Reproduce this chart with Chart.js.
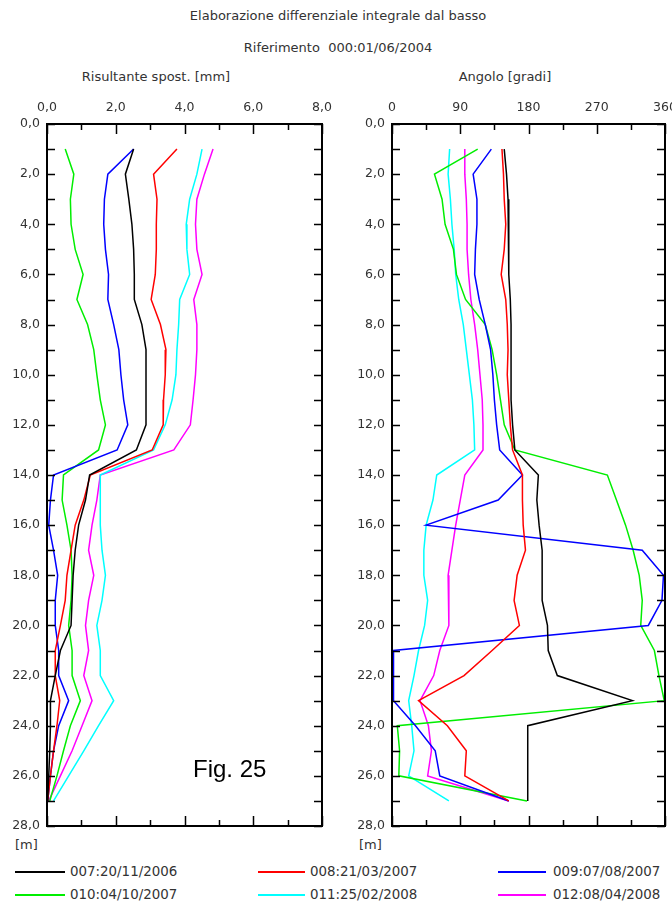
<!DOCTYPE html>
<html>
<head>
<meta charset="utf-8">
<script src="https://cdn.jsdelivr.net/npm/chart.js@4.4.1/dist/chart.umd.min.js"></script>
<style>
html,body{margin:0;padding:0;background:#fff;width:672px;height:910px;overflow:hidden;position:relative;font-family:"DejaVu Sans",Verdana,sans-serif;}
.t{position:absolute;font-size:13px;line-height:14px;color:#333;white-space:nowrap;}
.c{transform:translateX(-50%);}
canvas{position:absolute;}
#fig{position:absolute;left:193px;top:757px;font-family:"Liberation Sans",Arial,sans-serif;font-size:24px;line-height:24px;color:#000;}
.sw{position:absolute;height:0;border-top:2px solid #000;}
</style>
</head>
<body>
<div class="t c" style="left:338px;top:9px;">Elaborazione differenziale integrale dal basso</div>
<div class="t c" style="left:338px;top:41px;">Riferimento&nbsp; 000:01/06/2004</div>
<div class="t c" style="left:156px;top:70px;">Risultante spost. [mm]</div>
<div class="t c" style="left:505px;top:70px;">Angolo [gradi]</div>
<div class="t" style="left:15px;top:838px;">[m]</div>
<div class="t" style="left:359px;top:838px;">[m]</div>
<canvas id="c1" width="352" height="766" style="left:0;top:80px;"></canvas>
<canvas id="c2" width="355" height="766" style="left:340px;top:80px;"></canvas>
<div id="fig">Fig. 25</div>
<div id="legend"></div>
<script>
// Depth of each reading [m]
const depths = [1,2,3,4,5,6,7,8,9,10,11,12,13,14,15,16,17,18,19,20,21,22,23,24,25,26,27];

// Series names and colours
const seriesNames = ["007:20/11/2006","008:21/03/2007","009:07/08/2007","010:04/10/2007","011:25/02/2008","012:08/04/2008"];
const seriesColors = ["#000000","#ff0000","#0000ff","#00ee00","#00ffff","#ff00ff"];

// Risultante spostamento [mm]
const disp007 = [2.52,2.28,2.38,2.47,2.52,2.54,2.54,2.76,2.88,2.88,2.88,2.88,2.60,1.24,1.12,0.92,0.82,0.76,0.73,0.70,0.39,0.24,0.10,0.10,0.08,0.05,0.02];
const disp008 = [3.78,3.10,3.20,3.18,3.18,3.15,3.03,3.30,3.46,3.44,3.39,3.38,3.06,1.26,1.07,0.82,0.70,0.58,0.53,0.39,0.24,0.24,0.37,0.29,0.19,0.10,0.02];
const disp009 = [2.52,1.77,1.67,1.65,1.70,1.79,1.77,1.94,2.09,2.15,2.23,2.35,2.04,0.19,0.10,0.05,0.19,0.31,0.24,0.24,0.34,0.34,0.63,0.34,0.19,0.10,0.02];
const disp010 = [0.53,0.78,0.68,0.70,0.82,1.05,0.87,1.18,1.36,1.45,1.55,1.70,1.50,0.48,0.44,0.58,0.70,0.73,0.70,0.63,0.73,0.73,0.97,0.68,0.48,0.29,0.08];
const disp011 = [4.51,4.36,4.15,4.05,4.07,4.15,3.86,3.83,3.78,3.75,3.64,3.44,3.10,1.55,1.55,1.55,1.60,1.70,1.60,1.45,1.55,1.55,1.94,1.50,1.07,0.63,0.19];
const disp012 = [4.83,4.58,4.36,4.32,4.36,4.51,4.27,4.36,4.36,4.32,4.25,4.17,3.69,1.55,1.45,1.31,1.21,1.36,1.21,1.12,1.21,1.07,1.31,1.02,0.73,0.39,0.05];

// Angolo [gradi]
const ang007 = [148,151,153,154,154,154,156,157,157,157,157,159,162,193,191,194,198,198,198,205,206,218,317,179,179,179,179];
const ang008 = [145,147,148,150,148,144,150,152,153,152,154,156,159,172,172,173,176,165,161,168,132,95,35,73,98,96,154];
const ang009 = [131,107,112,112,110,109,115,123,130,133,135,138,142,172,140,45,330,358,356,338,2,2,2,31,57,63,154];
const ang010 = [113,56,66,70,81,85,97,123,132,138,143,148,162,284,296,308,318,326,330,328,346,352,359,7,10,9,178];
const ang011 = [76,74,77,79,82,84,88,94,98,102,106,108,109,59,54,45,42,42,47,43,35,29,22,26,29,22,75];
const ang012 = [96,96,98,99,99,101,104,109,113,116,119,120,120,96,90,84,79,74,75,75,63,55,37,48,52,47,154];

// Axis ranges / tick steps
const dispAxis = {min:0, max:8, labelStep:2, minorStep:1};
const angAxis = {min:0, max:360, labelStep:90, minorStep:45};
const depthAxis = {min:0, max:28, labelStep:2, minorStep:1};

const dispSeries = [disp007,disp008,disp009,disp010,disp011,disp012];
const angSeries = [ang007,ang008,ang009,ang010,ang011,ang012];

function makeDatasets(series){
  return series.map((vals,i)=>({
    label: seriesNames[i],
    data: vals.map((v,k)=>({x:v, y:depths[k]})),
    borderColor: seriesColors[i],
    backgroundColor: seriesColors[i],
    borderWidth: 1.5,
    pointRadius: 0,
    showLine: true,
    tension: 0,
    fill: false
  }));
}

const font = {family:"DejaVu Sans", size:12.5};
const fmt1 = v => v.toFixed(1).replace('.', ',');

const frameTicks = {
  id:'frameTicks',
  afterDraw(chart, args, o){
    const {ctx, chartArea:{left,right,top,bottom}, scales:{x,y}} = chart;
    ctx.save();
    ctx.strokeStyle = '#000';
    ctx.lineWidth = 1.5;
    ctx.beginPath();
    for(let v=o.x.min; v<=o.x.max+1e-9; v+=o.x.minorStep){
      const px = Math.round(x.getPixelForValue(v))+0.5;
      const major = Math.abs(v/o.x.labelStep - Math.round(v/o.x.labelStep))<1e-9;
      const len = major ? 10 : 6;
      ctx.moveTo(px, top); ctx.lineTo(px, top+len);
      ctx.moveTo(px, bottom); ctx.lineTo(px, bottom-len);
    }
    for(let v=o.y.min; v<=o.y.max+1e-9; v+=o.y.minorStep){
      const py = Math.round(y.getPixelForValue(v))+0.5;
      ctx.moveTo(left, py); ctx.lineTo(left+8, py);
      ctx.moveTo(right, py); ctx.lineTo(right-8, py);
    }
    ctx.stroke();
    ctx.lineWidth = 2;
    ctx.strokeRect(left, top, right-left, bottom-top);
    ctx.restore();
  }
};

function makeChart(id, series, xa, xfmt, yWidth, padRight){
  return new Chart(document.getElementById(id), {
    type:'scatter',
    data:{datasets: makeDatasets(series)},
    plugins:[frameTicks],
    options:{
      responsive:false,
      animation:false,
      devicePixelRatio:1,
      layout:{padding:{left:0, top:0, right:padRight, bottom:20}},
      plugins:{legend:{display:false}, tooltip:{enabled:false}, frameTicks:{x:xa, y:depthAxis}},
      scales:{
        x:{type:'linear', position:'top', min:xa.min, max:xa.max,
           ticks:{stepSize:xa.labelStep, callback:xfmt, font, color:'#333', padding:9, maxRotation:0, autoSkip:false},
           grid:{display:false, drawTicks:false}, border:{display:false},
           afterFit: s => { s.height = 44; }},
        y:{type:'linear', reverse:true, min:depthAxis.min, max:depthAxis.max,
           ticks:{stepSize:depthAxis.labelStep, callback:fmt1, font, color:'#333', padding:7, autoSkip:false},
           grid:{display:false, drawTicks:false}, border:{display:false},
           afterFit: s => { s.width = yWidth; }}
      }
    }
  });
}

makeChart('c1', dispSeries, dispAxis, fmt1, 47, 30);
makeChart('c2', angSeries, angAxis, v => String(Math.round(v)), 52, 30);

// HTML legend built from series names/colours
const legPos = [[15,65,70],[258,305,310],[498,546,553]];
const legRows = [872,895];
const lg = document.getElementById('legend');
seriesNames.forEach((n,i)=>{
  const col = i%3, row = Math.floor(i/3);
  const [x0,x1,tx] = legPos[col];
  const yc = legRows[row];
  const sw = document.createElement('div');
  sw.className='sw';
  sw.style.left = x0+'px'; sw.style.width=(x1-x0)+'px'; sw.style.top=(yc-1)+'px';
  sw.style.borderTopColor = seriesColors[i];
  lg.appendChild(sw);
  const t = document.createElement('div');
  t.className='t';
  t.style.left = tx+'px'; t.style.top=(yc-7)+'px';
  t.style.fontSize = '13.4px';
  t.textContent = n;
  lg.appendChild(t);
});
</script>
</body>
</html>
